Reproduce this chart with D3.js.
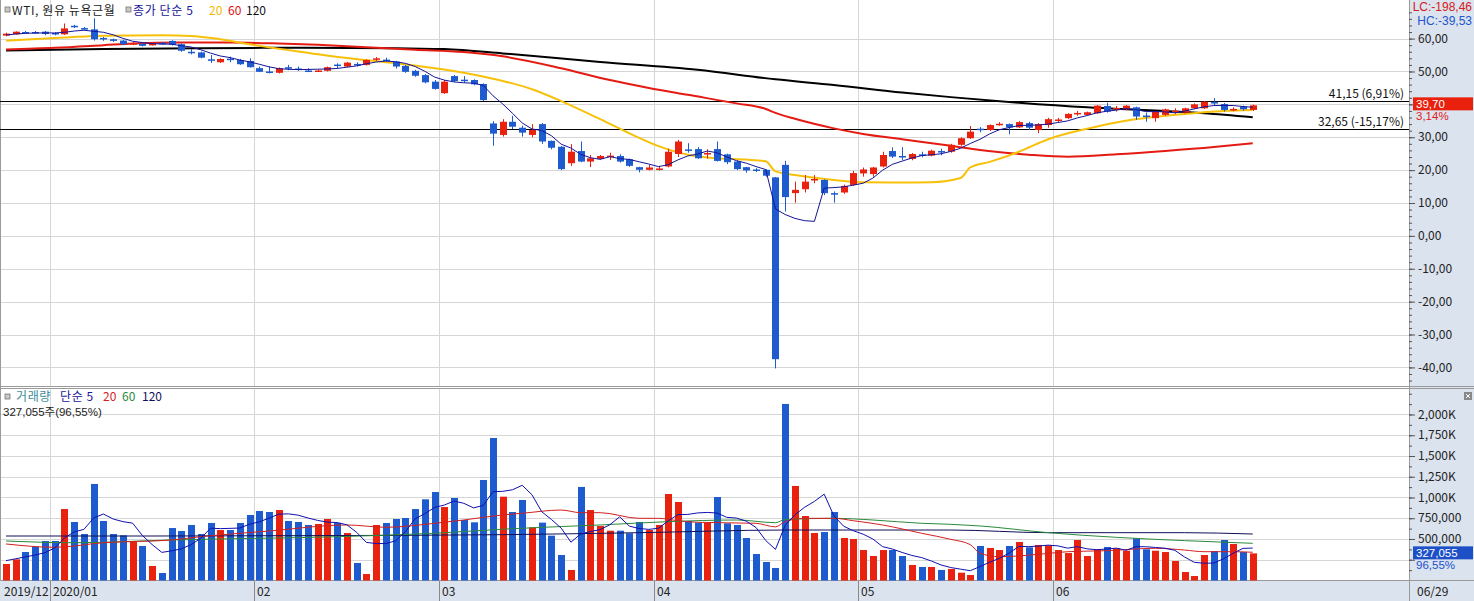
<!DOCTYPE html>
<html><head><meta charset="utf-8">
<script src="https://cdn.jsdelivr.net/npm/d3@7/dist/d3.min.js"></script>
<style>
body{margin:0;background:#fff;overflow:hidden}
svg{display:block}
text{font-family:"Noto Sans CJK KR","Noto Sans",sans-serif;font-size:12px}
.num{font-family:"Liberation Sans","DejaVu Sans","Noto Sans CJK KR",sans-serif;font-size:11.5px}
</style></head><body>
<svg id="chart" width="1474" height="601"></svg>
<script>
// ---------- DATA ----------
const dates = [
"2019-12-24","2019-12-26","2019-12-27","2019-12-30","2019-12-31",
"2020-01-02","2020-01-03","2020-01-06","2020-01-07","2020-01-08","2020-01-09","2020-01-10","2020-01-13","2020-01-14","2020-01-15","2020-01-16","2020-01-17","2020-01-21","2020-01-22","2020-01-23","2020-01-24","2020-01-27","2020-01-28","2020-01-29","2020-01-30","2020-01-31",
"2020-02-03","2020-02-04","2020-02-05","2020-02-06","2020-02-07","2020-02-10","2020-02-11","2020-02-12","2020-02-13","2020-02-14","2020-02-18","2020-02-19","2020-02-20","2020-02-21","2020-02-24","2020-02-25","2020-02-26","2020-02-27","2020-02-28",
"2020-03-02","2020-03-03","2020-03-04","2020-03-05","2020-03-06","2020-03-09","2020-03-10","2020-03-11","2020-03-12","2020-03-13","2020-03-16","2020-03-17","2020-03-18","2020-03-19","2020-03-20","2020-03-23","2020-03-24","2020-03-25","2020-03-26","2020-03-27","2020-03-30","2020-03-31",
"2020-04-01","2020-04-02","2020-04-03","2020-04-06","2020-04-07","2020-04-08","2020-04-09","2020-04-13","2020-04-14","2020-04-15","2020-04-16","2020-04-17","2020-04-20","2020-04-21","2020-04-22","2020-04-23","2020-04-24","2020-04-27","2020-04-28","2020-04-29","2020-04-30",
"2020-05-01","2020-05-04","2020-05-05","2020-05-06","2020-05-07","2020-05-08","2020-05-11","2020-05-12","2020-05-13","2020-05-14","2020-05-15","2020-05-18","2020-05-19","2020-05-20","2020-05-21","2020-05-22","2020-05-26","2020-05-27","2020-05-28","2020-05-29",
"2020-06-01","2020-06-02","2020-06-03","2020-06-04","2020-06-05","2020-06-08","2020-06-09","2020-06-10","2020-06-11","2020-06-12","2020-06-15","2020-06-16","2020-06-17","2020-06-18","2020-06-19","2020-06-22","2020-06-23","2020-06-24","2020-06-25","2020-06-26","2020-06-29"];

const open  = [60.9,61.3,62.0,62.0,62.1,61.7,61.3,63.9,63.2,62.8,60.2,59.8,59.4,58.5,58.4,58.2,58.7,59.3,58.3,56.0,55.8,53.7,52.8,53.9,53.5,53.2,51.0,50.0,49.6,51.3,50.9,50.3,50.1,50.2,52.1,51.5,52.3,52.0,53.8,53.6,53.0,51.7,50.2,48.9,46.9,43.4,48.6,47.5,47.4,46.2,34.2,30.7,34.7,32.9,30.7,34.0,28.9,27.1,22.1,25.8,22.6,23.4,24.1,24.3,23.3,20.9,20.1,20.3,21.1,24.9,26.3,26.4,24.9,26.4,24.8,22.6,20.9,20.2,20.1,17.8,21.6,13.0,14.2,17.0,17.0,13.0,13.2,15.5,19.0,18.8,21.1,25.8,24.3,23.4,24.8,24.4,25.8,25.6,27.7,29.7,32.6,32.2,33.9,34.0,33.0,34.3,32.2,33.7,35.2,35.8,37.2,36.8,37.3,39.5,38.6,38.5,39.1,36.6,35.8,36.8,37.9,37.5,38.8,38.8,40.7,40.1,38.4,39.3,38.3];
const high  = [61.8,62.2,62.3,62.3,62.3,61.9,64.6,64.2,63.5,66.2,60.5,60.0,59.6,59.0,58.6,58.9,59.0,59.5,58.5,56.8,56.0,55.0,54.0,54.5,53.8,54.0,51.5,51.5,51.2,52.0,51.5,51.0,50.6,51.5,52.5,52.9,52.8,53.7,54.4,54.2,53.2,52.0,50.5,49.2,47.4,47.4,48.9,48.6,47.6,46.4,34.9,35.5,36.5,33.5,34.0,34.3,29.0,27.3,27.9,28.7,24.6,24.6,25.3,24.8,23.5,21.0,21.6,21.3,26.5,29.2,28.2,27.0,26.3,28.7,25.0,23.0,21.0,20.6,20.3,17.9,22.8,16.5,18.5,18.5,17.2,13.5,15.6,19.8,20.8,21.0,25.6,26.9,27.0,25.2,25.6,26.2,26.5,28.0,30.0,33.4,33.1,33.9,34.6,34.2,34.9,34.7,34.3,35.9,35.9,37.3,38.0,37.8,39.8,40.5,39.5,39.8,39.3,37.5,38.0,38.7,38.8,39.0,40.3,41.0,41.9,40.4,39.1,39.6,39.9];
const low   = [60.7,61.2,61.6,61.5,61.0,61.0,61.1,63.2,62.7,59.4,59.3,59.0,58.0,58.0,57.6,57.9,58.2,57.9,56.0,55.2,54.0,52.6,52.6,52.8,52.0,51.2,49.8,49.4,49.4,50.4,50.2,49.8,49.9,50.0,51.0,51.3,51.5,51.8,53.2,53.0,50.9,49.6,48.4,46.4,44.5,43.2,46.8,46.6,45.8,41.0,27.4,30.2,32.5,30.2,30.0,28.0,26.3,20.0,21.3,22.4,20.9,23.2,23.1,22.3,21.0,19.3,19.9,19.9,20.8,24.0,25.3,23.4,23.5,22.6,21.8,20.0,19.2,19.4,18.0,-40.3,7.4,10.1,13.2,16.0,12.4,10.1,12.8,15.2,18.0,18.0,20.8,23.7,23.1,23.0,23.9,24.2,24.5,25.3,27.4,29.5,31.5,31.9,33.5,30.9,32.8,32.2,31.2,32.9,34.6,35.5,36.5,36.6,37.1,37.5,37.8,38.2,35.3,34.7,34.7,36.5,37.1,37.2,38.5,38.6,39.8,37.8,37.9,38.1,38.0];
const close = [61.5,62.1,61.8,61.8,61.4,61.5,63.1,63.7,63.0,59.8,60.0,59.3,58.3,58.6,57.8,58.4,58.6,58.1,56.3,55.8,54.2,53.5,53.8,53.8,52.2,51.3,49.9,49.9,51.0,51.2,50.8,50.2,50.3,51.3,52.0,52.7,52.2,53.5,54.0,53.5,51.5,49.9,48.7,46.7,44.7,46.9,47.1,47.4,46.1,41.3,31.1,34.7,33.2,31.4,32.2,28.7,26.8,20.3,25.6,22.6,23.6,24.3,24.4,22.6,21.3,20.1,20.8,20.5,25.6,28.7,26.0,23.6,25.2,22.8,22.4,20.3,19.9,20.0,18.3,-37.5,11.8,14.0,16.5,17.3,13.0,12.6,15.2,19.1,20.2,20.8,24.6,24.1,24.0,24.9,24.5,25.9,25.5,27.7,29.7,31.7,32.3,33.7,34.1,33.0,34.6,32.9,34.0,35.5,35.4,37.1,37.4,37.6,39.6,37.8,38.9,39.6,36.3,36.4,37.8,38.5,38.1,38.8,40.0,40.8,40.5,38.3,38.6,38.5,39.7];
// volume in thousands of contracts
const volumeK = [199,255,343,407,476,476,861,705,560,1163,717,560,544,472,416,175,90,632,596,669,560,693,608,608,693,789,837,825,849,717,705,669,681,741,693,572,211,78,669,693,741,753,861,978,1066,885,994,729,701,1211,1717,1010,825,970,641,697,540,307,127,1127,849,657,600,600,569,705,608,669,1042,946,717,697,697,1006,689,669,512,319,223,151,2127,1139,777,572,584,825,512,500,367,295,367,367,295,187,163,163,127,139,94,66,416,392,367,416,464,400,428,424,367,331,488,295,376,404,388,359,508,376,359,343,235,102,54,307,355,488,440,343,327];

// price moving averages
const ma5 = [61.1,61.4,61.6,61.7,61.72,61.72,61.92,62.3,62.54,62.22,61.92,61.16,60.08,59.2,58.8,58.48,58.34,58.3,57.84,57.44,56.6,55.58,54.72,54.22,53.5,52.92,52.2,51.42,50.86,50.66,50.56,50.62,50.7,50.76,50.92,51.3,51.7,52.34,52.88,53.18,52.94,52.48,51.52,50.06,48.3,47.38,46.82,46.56,46.44,45.76,42.6,40.12,37.28,34.34,32.52,32.04,30.46,27.88,26.72,24.8,23.78,23.28,24.1,23.5,23.24,22.54,21.84,21.06,21.66,23.14,24.32,24.88,25.82,25.26,24.0,22.86,22.12,21.08,20.18,8.2,6.5,5.32,4.62,4.42,14.52,14.68,14.92,15.44,16.02,17.58,19.98,21.76,22.74,23.68,24.42,24.68,24.96,25.7,26.66,28.1,29.38,31.02,32.3,32.96,33.54,33.66,33.72,34.0,34.48,34.98,35.88,36.6,37.42,37.9,38.26,38.7,38.44,37.8,37.8,37.72,37.42,37.92,38.64,39.24,39.64,39.68,39.64,39.34,39.12];
const ma20At = [0,6,10,16,19,22,25,30,35,40,45,50,54,57,61,64,67,70,73,76,78,79,81,85,88,92,95,98,99,101,104,107,111,114,118,121,125,128];
const ma20   = [59.4,60.3,60.9,61.0,60.8,59.8,58.3,56.1,54.1,52.5,50.6,47.8,44.6,41.0,35.5,31.2,27.3,24.7,23.6,23.2,22.7,19.6,18.5,17.0,16.3,16.2,16.3,17.6,20.8,22.5,25.6,29.4,32.6,34.5,36.2,37.1,38.0,38.3];
const ma60At = [0,5,10,13,18,23,28,32,37,42,47,51,57,62,66,70,75,78,79,81,85,88,92,97,100,105,109,114,119,124,128];
const ma60   = [56.7,57.2,58.0,58.5,58.8,58.8,58.5,58.1,57.4,56.6,55.9,54.6,51.0,47.4,45.0,42.9,40.3,38.6,37.4,35.6,32.7,31.0,29.4,27.4,26.1,24.7,24.1,24.8,25.8,27.0,28.2];
const ma120At = [0,10,20,30,40,45,51,61,71,79,85,92,97,104,111,118,123,128];
const ma120   = [56.4,56.8,57.1,57.2,57.1,56.8,55.5,52.9,50.5,47.6,45.9,43.6,42.2,40.5,39.1,38.1,37.3,36.1];

// volume moving averages (thousands)
const vma5 = [239,262,285,307,336,391,513,585,616,753,801,741,709,691,542,433,339,357,382,432,509,630,625,628,632,678,707,750,799,803,787,753,724,703,698,671,580,459,445,445,478,587,743,805,880,909,957,930,875,904,1070,1074,1093,1147,1033,829,735,631,462,560,590,613,672,767,655,626,616,630,719,794,796,814,820,813,761,752,715,639,482,375,666,792,883,953,1040,779,654,599,558,500,408,379,338,302,276,235,187,156,137,118,168,221,267,331,411,408,415,426,417,390,408,381,371,379,390,364,407,407,398,389,364,283,219,208,211,261,329,387,391];
const vma20At = [0,5,10,17,20,27,35,39,44,47,51,53,57,59,61,65,67,69,71,77,79,80,82,85,87,90,94,97,99,100,102,106,109,113,118,121,123,126,128];
const vma20   = [440,400,455,488,528,596,669,641,689,729,790,810,849,817,817,749,749,720,701,689,646,710,749,749,720,669,569,496,432,328,287,315,347,359,388,367,347,347,340];
const vma60At = [0,7,17,34,44,51,57,61,68,75,79,80,85,89,94,97,100,107,114,121,128];
const vma60   = [476,455,488,528,569,618,650,669,709,729,697,735,749,729,689,677,657,576,520,480,448];
const vma120At = [0,15,30,51,65,80,97,107,121,128];
const vma120   = [536,536,540,552,576,608,608,576,576,560];

// labels
const monthTickDates  = ["2019-12-24","2020-01-02","2020-02-03","2020-03-02","2020-04-01","2020-05-01","2020-06-01"];
const monthTickLabels = ["2019/12","2020/01","02","03","04","05","06"];
const priceTicks = [60,50,40,30,20,10,0,-10,-20,-30,-40];
const priceTickLabels = ["60,00","50,00","","30,00","20,00","10,00","0,00","-10,00","-20,00","-30,00","-40,00"]; // 40,00 hidden by the last-price marker
const volTicksK = [2000,1750,1500,1250,1000,750,500,250];
const volTickLabels = ["2,000K","1,750K","1,500K","1,250K","1,000K","750,000","500,000",""]; // 250K hidden by marker
const refLevels = [41.15, 32.65];
const refLabels = ["41,15 (6,91%)","32,65 (-15,17%)"];

// ---------- LAYOUT ----------
const W = 1474, H = 601, plotR = 1409;
const svg = d3.select("#chart");
const RED = "#e8220f", BLUE = "#1d5bcf", GRID = "#d6d6d6", AXBG = "#dbe3ee";

const x = d3.scaleBand().domain(dates).range([1.13, 1257.6]).padding(0);
const cx = d => x(d) + x.bandwidth() / 2;
const y = d3.scaleLinear().domain([-45.35, 71.13]).range([385, 2]);
const yv = d3.scaleLinear().domain([0, 2307]).range([580.5, 389]);
const bodyW = 7;

// backgrounds
svg.append("rect").attr("x",0).attr("y",0).attr("width",W).attr("height",H).attr("fill","#fff");
svg.append("rect").attr("x",plotR).attr("y",0).attr("width",W-plotR).attr("height",H).attr("fill",AXBG);
svg.append("rect").attr("x",0).attr("y",581).attr("width",W).attr("height",20).attr("fill",AXBG);

// grids
const g = svg.append("g");
g.selectAll(".pg").data(priceTicks).join("line")
  .attr("x1",0).attr("x2",plotR).attr("y1",d=>Math.round(y(d))+0.5).attr("y2",d=>Math.round(y(d))+0.5)
  .attr("stroke",GRID);
g.selectAll(".vg").data(volTicksK).join("line")
  .attr("x1",0).attr("x2",plotR).attr("y1",d=>Math.round(yv(d))+0.5).attr("y2",d=>Math.round(yv(d))+0.5)
  .attr("stroke",GRID);
monthTickDates.slice(1).forEach(d=>{
  const xx = Math.round(x(d))+0.5;
  g.append("line").attr("x1",xx).attr("x2",xx).attr("y1",0).attr("y2",386).attr("stroke",GRID);
  g.append("line").attr("x1",xx).attr("x2",xx).attr("y1",389).attr("y2",581).attr("stroke",GRID);
});

// panel borders
svg.append("line").attr("x1",0).attr("x2",W).attr("y1",386.5).attr("y2",386.5).attr("stroke","#9a9a9a");
svg.append("line").attr("x1",0).attr("x2",W).attr("y1",388.5).attr("y2",388.5).attr("stroke","#9a9a9a");
svg.append("line").attr("x1",0).attr("x2",W).attr("y1",580.5).attr("y2",580.5).attr("stroke","#9a9a9a");
svg.append("line").attr("x1",plotR+0.5).attr("x2",plotR+0.5).attr("y1",0).attr("y2",H).attr("stroke","#9a9a9a");
svg.append("line").attr("x1",0.5).attr("x2",0.5).attr("y1",0).attr("y2",581).attr("stroke","#9a9a9a");

// reference levels
refLevels.forEach((v,i)=>{
  const yy = Math.round(y(v))+0.5;
  svg.append("line").attr("x1",0).attr("x2",plotR).attr("y1",yy).attr("y2",yy).attr("stroke","#000");
  svg.append("text").attr("x",1404).attr("y",yy-4).attr("text-anchor","end").attr("fill","#111").text(refLabels[i]);
});

// ---------- PRICE ----------
const idx = d3.range(dates.length);
const lineIdx = (ys) => d3.line().x(d=>cx(dates[d[0]])).y(d=>ys(d[1]));
const pairs = (at, vals) => at.map((a,i)=>[a, vals[i]]);

svg.append("path").datum(pairs(ma120At,ma120)).attr("fill","none").attr("stroke","#000").attr("stroke-width",2)
  .attr("d", lineIdx(y).curve(d3.curveMonotoneX));
svg.append("path").datum(pairs(ma60At,ma60)).attr("fill","none").attr("stroke","#e31b12").attr("stroke-width",2)
  .attr("d", lineIdx(y).curve(d3.curveMonotoneX));
svg.append("path").datum(pairs(ma20At,ma20)).attr("fill","none").attr("stroke","#f7c10a").attr("stroke-width",2)
  .attr("d", lineIdx(y).curve(d3.curveMonotoneX));

const candles = svg.append("g");
idx.forEach(i=>{
  const up = close[i] >= open[i];
  const col = up ? RED : BLUE;
  const xc = Math.round(cx(dates[i]));
  candles.append("line").attr("x1",xc+0.5).attr("x2",xc+0.5).attr("y1",y(high[i])).attr("y2",y(low[i])).attr("stroke",col);
  const y0 = y(Math.max(open[i],close[i])), y1 = y(Math.min(open[i],close[i]));
  candles.append("rect").attr("x",xc-3).attr("width",bodyW).attr("y",y0).attr("height",Math.max(1.5,y1-y0)).attr("fill",col);
});

svg.append("path").datum(pairs(idx,ma5)).attr("fill","none").attr("stroke","#14149a").attr("stroke-width",1)
  .attr("d", lineIdx(y));

// ---------- VOLUME ----------
const vb = svg.append("g");
idx.forEach(i=>{
  const col = close[i] >= open[i] ? RED : BLUE;
  const xc = Math.round(cx(dates[i]));
  vb.append("rect").attr("x",xc-3).attr("width",bodyW).attr("y",yv(volumeK[i])).attr("height",yv(0)-yv(volumeK[i])).attr("fill",col);
});
svg.append("path").datum(pairs(vma120At,vma120)).attr("fill","none").attr("stroke","#10105a").attr("stroke-width",1)
  .attr("d", lineIdx(yv).curve(d3.curveMonotoneX));
svg.append("path").datum(pairs(vma60At,vma60)).attr("fill","none").attr("stroke","#2a8a3a").attr("stroke-width",1)
  .attr("d", lineIdx(yv).curve(d3.curveMonotoneX));
svg.append("path").datum(pairs(vma20At,vma20)).attr("fill","none").attr("stroke","#d42020").attr("stroke-width",1)
  .attr("d", lineIdx(yv).curve(d3.curveMonotoneX));
svg.append("path").datum(pairs(idx,vma5)).attr("fill","none").attr("stroke","#1010b0").attr("stroke-width",1)
  .attr("d", lineIdx(yv));

// ---------- AXES ----------
const pax = svg.append("g").attr("transform",`translate(${plotR},0)`)
  .call(d3.axisRight(y).tickValues(priceTicks).tickSize(6).tickFormat((d,i)=>priceTickLabels[i]));
const paxMinor = svg.append("g").attr("transform",`translate(${plotR},0)`)
  .call(d3.axisRight(y).tickValues(d3.range(-44,70,2)).tickSize(3).tickFormat(""));
const vax = svg.append("g").attr("transform",`translate(${plotR},0)`)
  .call(d3.axisRight(yv).tickValues(volTicksK).tickSize(6).tickFormat((d,i)=>volTickLabels[i]));
const vaxMinor = svg.append("g").attr("transform",`translate(${plotR},0)`)
  .call(d3.axisRight(yv).tickValues(d3.range(125,2300,125)).tickSize(3).tickFormat(""));
[pax,paxMinor,vax,vaxMinor].forEach(a=>{
  a.select(".domain").remove();
  a.selectAll("line").attr("stroke","#555");
  a.selectAll("text").attr("fill","#222").attr("x",9).attr("dy","0.3em")
    .style("font-family","'Noto Sans CJK KR',sans-serif").style("font-size","12px");
  a.selectAll("text").filter(function(){return this.textContent==="";}).remove();
});

const xax = svg.append("g");
monthTickDates.forEach((d,i)=>{
  const xx = i===0 ? 1 : Math.round(x(d));
  if(i>0) xax.append("line").attr("x1",xx+0.5).attr("x2",xx+0.5).attr("y1",581).attr("y2",601).attr("stroke","#8a8a8a");
  xax.append("text").attr("x",xx+3).attr("y",596).attr("fill","#222").text(monthTickLabels[i]);
});
xax.append("text").attr("x",1417).attr("y",596).attr("fill","#222").text("06/29");

// ---------- MARKERS & LEGENDS ----------
const yLast = y(close[close.length-1]);
svg.append("rect").attr("x",1413).attr("y",yLast-8).attr("width",60).attr("height",13).attr("fill","#e8200c");
svg.append("text").attr("class","num").attr("x",1416).attr("y",yLast+3).attr("fill","#fff").text("39,70");
svg.append("text").attr("class","num").attr("x",1416).attr("y",yLast+15).attr("fill","#e02020").text("3,14%");
const yVol = yv(volumeK[volumeK.length-1]);
svg.append("rect").attr("x",1413).attr("y",yVol-7).attr("width",60).attr("height",13).attr("fill","#1d4fc6");
svg.append("text").attr("class","num").attr("x",1416).attr("y",yVol+4).attr("fill","#fff").text("327,055");
svg.append("text").attr("class","num").attr("x",1416).attr("y",yVol+16).attr("fill","#2050d0").text("96,55%");

svg.append("text").attr("class","num").attr("x",1472).attr("y",11).attr("text-anchor","end").style("font-size","12px").attr("fill","#d42020").text("LC:-198,46");
svg.append("text").attr("class","num").attr("x",1472).attr("y",24.5).attr("text-anchor","end").style("font-size","12px").attr("fill","#2255d0").text("HC:-39,53");

const sq = (xx,yy)=>svg.append("rect").attr("x",xx).attr("y",yy).attr("width",5).attr("height",5).attr("fill","#c8c8c8").attr("stroke","#777").attr("stroke-width",0.8);
sq(5,7);
svg.append("text").attr("x",12).attr("y",15).attr("fill","#222").attr("letter-spacing","0.6").text("WTI, 원유 뉴욕근월");
sq(126,7);
svg.append("text").attr("x",133).attr("y",15).attr("fill","#16169a").attr("letter-spacing","0.6").text("종가 단순 5");
svg.append("text").attr("x",209).attr("y",15).attr("fill","#f0b800").text("20");
svg.append("text").attr("x",228).attr("y",15).attr("fill","#e01010").text("60");
svg.append("text").attr("x",246).attr("y",15).attr("fill","#111").text("120");

sq(5,394);
const vl = svg.append("g").style("font-size","11.5px");
vl.append("text").attr("x",16).attr("y",400.5).attr("fill","#3a8c9a").attr("letter-spacing","0.6").text("거래량");
vl.append("text").attr("x",60).attr("y",400.5).attr("fill","#16169a").attr("letter-spacing","0.6").text("단순 5");
vl.append("text").attr("x",103).attr("y",400.5).attr("fill","#d42020").text("20");
vl.append("text").attr("x",122).attr("y",400.5).attr("fill","#2a8a3a").text("60");
vl.append("text").attr("x",142).attr("y",400.5).attr("fill","#10105a").text("120");
svg.append("text").attr("class","num").attr("x",3).attr("y",415.5).attr("fill","#222").text("327,055주(96,55%)");

svg.append("rect").attr("x",1464).attr("y",392).attr("width",8).attr("height",8).attr("fill","#888");
svg.append("path").attr("d","M1466,394L1470,398M1470,394L1466,398").attr("stroke","#fff").attr("stroke-width",1);
</script></body></html>
